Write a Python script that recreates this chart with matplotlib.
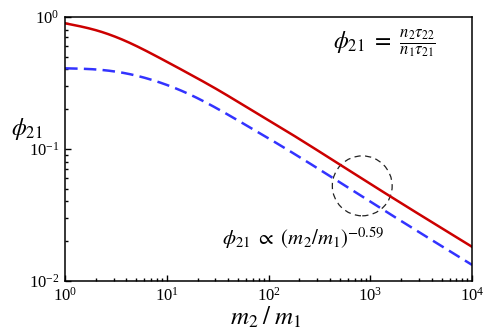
import numpy as np
import matplotlib
matplotlib.use("Agg")
import matplotlib.pyplot as plt
from matplotlib.patches import Ellipse

plt.rcParams['font.family'] = ['Liberation Serif', 'DejaVu Serif']
plt.rcParams['mathtext.fontset'] = 'stix'
plt.rcParams['axes.unicode_minus'] = False

# values
mass_ratio = [1, 2, 4, 8, 16, 32, 63, 126, 1000, 10000]
phi_red = [0.895, 0.794, 0.653, 0.501, 0.376, 0.279, 0.204, 0.148, 0.0543, 0.0181]
phi_blue = [0.408, 0.400, 0.373, 0.324, 0.263, 0.200, 0.148, 0.108, 0.0398, 0.0132]


def spline(x, y, xs):
    # natural cubic spline through the read points (log-log)
    x = np.asarray(x, float); y = np.asarray(y, float)
    n = len(x)
    h = np.diff(x)
    A = np.zeros((n, n)); b = np.zeros(n)
    A[0, 0] = A[-1, -1] = 1
    for i in range(1, n - 1):
        A[i, i - 1] = h[i - 1]
        A[i, i] = 2 * (h[i - 1] + h[i])
        A[i, i + 1] = h[i]
        b[i] = 3 * ((y[i + 1] - y[i]) / h[i] - (y[i] - y[i - 1]) / h[i - 1])
    c = np.linalg.solve(A, b)
    idx = np.clip(np.searchsorted(x, xs) - 1, 0, n - 2)
    dx = xs - x[idx]
    bb = (y[idx + 1] - y[idx]) / h[idx] - h[idx] * (2 * c[idx] + c[idx + 1]) / 3
    d = (c[idx + 1] - c[idx]) / (3 * h[idx])
    return y[idx] + bb * dx + c[idx] * dx ** 2 + d * dx ** 3


lx = np.log10(mass_ratio)
xs = np.linspace(0, 4, 400)
red_s = 10 ** spline(lx, np.log10(phi_red), xs)
blue_s = 10 ** spline(lx, np.log10(phi_blue), xs)

fig = plt.figure(figsize=(4.97, 3.32), dpi=100)
ax = fig.add_axes([0.131, 0.154, 0.819, 0.795])

ax.plot(10 ** xs, red_s, color='#cc0000', lw=1.8)
ax.plot(10 ** xs, blue_s, color='#3333ff', lw=1.8, dashes=(5, 2.5))

ax.set_xscale('log')
ax.set_yscale('log')
ax.set_xlim(1, 1e4)
ax.set_ylim(1e-2, 1)

for s in ax.spines.values():
    s.set_linewidth(1.1)
ax.tick_params(which='both', direction='in', top=False, right=False, labelsize=12, width=1)
ax.tick_params(which='major', length=4.5, pad=4)
ax.tick_params(which='minor', length=2.5)

ax.add_patch(Ellipse((0.73, 0.36), 0.147, 0.227, transform=ax.transAxes,
                     fill=False, ec='#222222', lw=0.9, ls=(0, (5, 3.5))))

ax.text(0.657, 0.9, r'$\phi_{21}\ =\ \frac{n_2\tau_{22}}{n_1\tau_{21}}$', transform=ax.transAxes,
        ha='left', va='center', fontsize=17)
ax.text(0.385, 0.16, r'$\phi_{21}\ \propto\ (m_2/m_1)^{-0.59}$', transform=ax.transAxes,
        ha='left', va='center', fontsize=15)

fig.text(0.022, 0.612, r'$\phi_{21}$', fontsize=17, ha='left', va='center')
fig.text(0.535, 0.045, r'$m_2\;/\;m_1$', fontsize=18, ha='center', va='center')

fig.savefig('out.png', dpi=100)
